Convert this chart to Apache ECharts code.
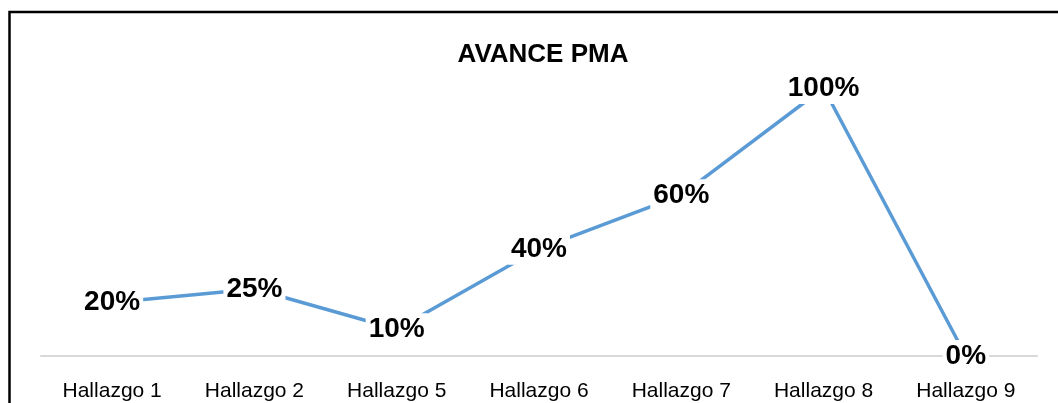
<!DOCTYPE html>
<html>
<head>
<meta charset="utf-8">
<script src="https://cdn.jsdelivr.net/npm/echarts@6/dist/echarts.min.js"></script>
<style>
html,body{margin:0;padding:0;background:#fff;}
#chart{width:1058px;height:403px;}
</style>
</head>
<body>
<div id="chart"></div>
<script>
const categories = ['Hallazgo 1','Hallazgo 2','Hallazgo 5','Hallazgo 6','Hallazgo 7','Hallazgo 8','Hallazgo 9'];
const avance = [20, 25, 10, 40, 60, 100, 0];
const titleText = 'AVANCE PMA';

const chart = echarts.init(document.getElementById('chart'));
chart.setOption({
  backgroundColor: '#fff',
  animation: false,
  title: {
    text: titleText,
    left: 538,
    top: 37,
    textAlign: 'center',
    textStyle: {fontFamily: '"Liberation Sans", Arial', fontWeight: 'bold', fontSize: 26, color: '#000'}
  },
  grid: {left: 41, right: 21, top: 88, bottom: 47},
  xAxis: {
    type: 'category',
    data: categories,
    boundaryGap: true,
    axisLine: {lineStyle: {color: '#D9D9D9', width: 2}},
    axisTick: {show: false},
    axisLabel: {fontFamily: '"Liberation Sans", Arial', fontSize: 21, color: '#000', margin: 25}
  },
  yAxis: {
    type: 'value', min: 0, max: 100, show: false,
    splitLine: {show: false}
  },
  series: [{
    type: 'line',
    data: avance,
    symbol: 'circle',
    symbolSize: 1,
    itemStyle: {color: '#5B9BD5'},
    lineStyle: {color: '#5B9BD5', width: 3.5},
    label: {
      show: true,
      position: 'inside',
      formatter: p => p.value + '%',
      fontFamily: '"Liberation Sans", Arial',
      fontWeight: 'bold',
      fontSize: 28,
      color: '#000',
      backgroundColor: '#fff',
      padding: [2, 3]
    }
  }],
  graphic: [{
    type: 'rect',
    shape: {x: 9.5, y: 12, width: 1200, height: 600},
    style: {fill: 'none', stroke: '#000', lineWidth: 2.5}
  }]
});
</script>
</body>
</html>
